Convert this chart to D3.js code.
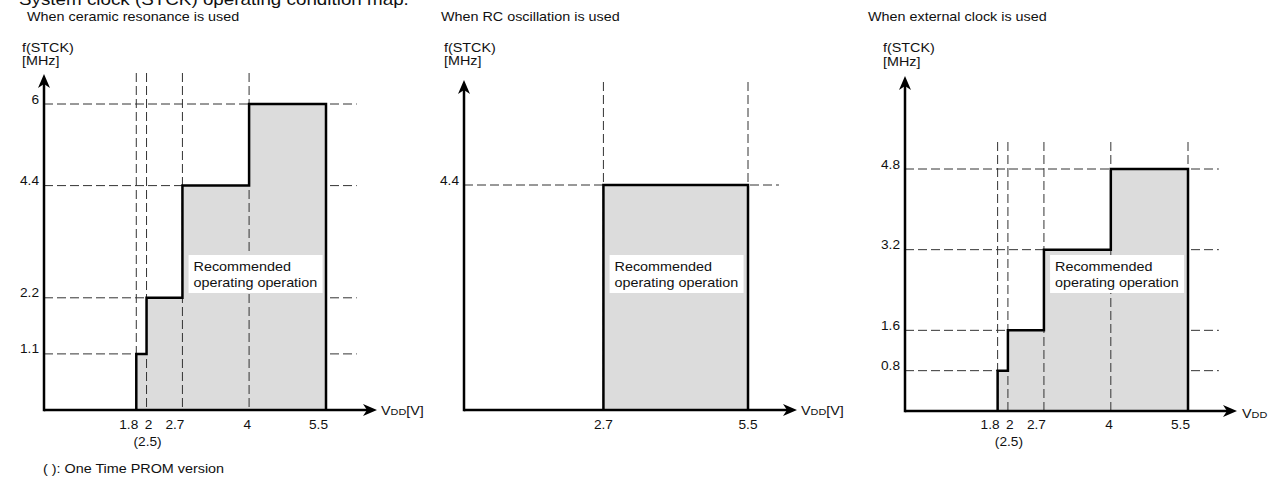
<!DOCTYPE html>
<html>
<head>
<meta charset="utf-8">
<script src="https://cdn.jsdelivr.net/npm/d3@7"></script>
<style>
  html, body { margin: 0; padding: 0; background: #fff; }
  svg { display: block; font-family: "Liberation Sans", Arial, sans-serif; }
</style>
</head>
<body>
<svg id="chart" width="1268" height="477"></svg>
<script>
// ---- data ----
const mainTitle = "System clock (STCK) operating condition map.";
const panelTitles = ["When ceramic resonance is used", "When RC oscillation is used", "When external clock is used"];
const yAxisTitle = ["f(STCK)", "[MHz]"];
const regionLabel = ["Recommended", "operating operation"];
const footnote = "( ): One Time PROM version";
const otpNote = "(2.5)";

// ceramic resonance: supply voltage breakpoints and max frequency on each step
const ceramicVdd = [1.8, 2, 2.7, 4, 5.5];
const ceramicFreq = [1.1, 2.2, 4.4, 6];
const ceramicXTicks = ["1.8", "2", "2.7", "4", "5.5"];
const ceramicYTicks = ["1.1", "2.2", "4.4", "6"];
const ceramicVLines = [1.8, 2, 2.7, 4];

// RC oscillation
const rcVdd = [2.7, 5.5];
const rcFreq = [4.4];
const rcXTicks = ["2.7", "5.5"];
const rcYTicks = ["4.4"];
const rcVLines = [2.7, 5.5];

// external clock
const extVdd = [1.8, 2, 2.7, 4, 5.5];
const extFreq = [0.8, 1.6, 3.2, 4.8];
const extXTicks = ["1.8", "2", "2.7", "4", "5.5"];
const extYTicks = ["0.8", "1.6", "3.2", "4.8"];
const extVLines = [1.8, 2, 2.7, 4, 5.5];

// ---- drawing ----
const SX = 1.14; // horizontal stretch of the original artwork's lettering
const svg = d3.select("#chart");

function label(g, x, y, s, size, anchor, weight) {
  return g.append("text")
    .attr("transform", `translate(${x},${y}) scale(${SX},1)`)
    .attr("text-anchor", anchor || "start")
    .attr("font-size", size)
    .attr("fill", "#111")
    .text(s);
}

label(svg, 19, 5, mainTitle, 16.5, "start");
label(svg, 27, 21, panelTitles[0], 12.6);
label(svg, 441, 21, panelTitles[1], 12.6);
label(svg, 868, 21, panelTitles[2], 12.6);
label(svg, 43, 473, footnote, 12.6);

const panels = [
  { vdd: ceramicVdd, freq: ceramicFreq, xt: ceramicXTicks, yt: ceramicYTicks, vl: ceramicVLines,
    xr: [44, 326], yDom: 6, yr: [410, 104], xTip: 377, yTip: 74, vTop: 73, tickMode: "end",
    yLab: [22, 52, 65], vddLab: [381, 415, "[V]"], otp: true },
  { vdd: rcVdd, freq: rcFreq, xt: rcXTicks, yt: rcYTicks, vl: rcVLines,
    xr: [464, 748], yDom: 4.4, yr: [410, 185], xTip: 797, yTip: 80, vTop: 82, tickMode: "middle",
    yLab: [444, 52, 65], vddLab: [801, 415, "[V]"], otp: false },
  { vdd: extVdd, freq: extFreq, xt: extXTicks, yt: extYTicks, vl: extVLines,
    xr: [905, 1188], yDom: 4.8, yr: [411, 169], xTip: 1237, yTip: 76, vTop: 142, tickMode: "end",
    yLab: [883, 52, 66], vddLab: [1242, 418, ""], otp: true }
];

panels.forEach(p => {
  const g = svg.append("g");
  const x = d3.scaleLinear().domain([0, 5.5]).range(p.xr);
  const y = d3.scaleLinear().domain([0, p.yDom]).range(p.yr);
  const x0 = x(0), y0 = y(0);
  const xEnd = x(6.1);

  // horizontal dashed guides (beneath fill)
  g.selectAll("line.h").data(p.freq).join("line")
    .attr("x1", x0).attr("x2", xEnd)
    .attr("y1", d => y(d)).attr("y2", d => y(d))
    .attr("stroke", "#333").attr("stroke-width", 1).attr("stroke-dasharray", "9,4");

  // operating region
  const pts = [{ v: p.vdd[0], f: 0 }]
    .concat(p.freq.map((f, i) => ({ v: p.vdd[i], f })))
    .concat([{ v: p.vdd[p.vdd.length - 1], f: p.freq[p.freq.length - 1] },
             { v: p.vdd[p.vdd.length - 1], f: 0 }]);
  const area = d3.area().x(d => x(d.v)).y0(y0).y1(d => y(d.f)).curve(d3.curveStepAfter);
  g.append("path").attr("d", area(pts)).attr("fill", "#dcdcdc");

  // vertical dashed guides (over fill)
  g.selectAll("line.v").data(p.vl).join("line")
    .attr("x1", d => x(d)).attr("x2", d => x(d))
    .attr("y1", p.vTop).attr("y2", y0)
    .attr("stroke", "#333").attr("stroke-width", 1).attr("stroke-dasharray", "9,4");

  // outline
  const line = d3.line().x(d => x(d.v)).y(d => y(d.f)).curve(d3.curveStepAfter);
  g.append("path").attr("d", line(pts)).attr("fill", "none")
    .attr("stroke", "#000").attr("stroke-width", 2.5).attr("stroke-linejoin", "miter");

  // region label box
  const bx = x(2.8) + 1, by = 255;
  g.append("rect").attr("x", bx).attr("y", by).attr("width", 134).attr("height", 38).attr("fill", "#fff");
  label(g, bx + 5, by + 16, regionLabel[0], 12.6);
  label(g, bx + 5, by + 32, regionLabel[1], 12.6);

  // axes
  g.append("line").attr("x1", x0).attr("x2", p.xTip - 8).attr("y1", y0).attr("y2", y0)
    .attr("stroke", "#000").attr("stroke-width", 2.5);
  g.append("line").attr("x1", x0).attr("x2", x0).attr("y1", y0 + 1.2).attr("y2", p.yTip + 8)
    .attr("stroke", "#000").attr("stroke-width", 2.5);
  // arrowheads
  g.append("path").attr("fill", "#000")
    .attr("d", `M${p.xTip},${y0} L${p.xTip - 14},${y0 - 6} L${p.xTip - 10},${y0} L${p.xTip - 14},${y0 + 6} Z`);
  g.append("path").attr("fill", "#000")
    .attr("d", `M${x0},${p.yTip} L${x0 - 6},${p.yTip + 14} L${x0},${p.yTip + 10} L${x0 + 6},${p.yTip + 14} Z`);

  // y tick labels
  p.yt.forEach((t, i) => label(g, x0 - 5, y(p.freq[i]) - 0.5, t, 12, "end"));

  // x tick labels
  p.xt.forEach((t, i) => {
    const v = +t;
    if (p.tickMode === "end" && t !== "2") label(g, x(v) + 2, 429, t, 12, "end");
    else label(g, x(v) + (p.tickMode === "end" ? 2 : 0), 429, t, 12, "middle");
  });
  if (p.otp) label(g, x(2) + 1, 446, otpNote, 12, "middle");

  // axis titles
  label(g, p.yLab[0], p.yLab[1], yAxisTitle[0], 12.6);
  label(g, p.yLab[0], p.yLab[2], yAxisTitle[1], 12.6);
  const vt = g.append("text")
    .attr("transform", `translate(${p.vddLab[0]},${p.vddLab[1]}) scale(${SX},1)`)
    .attr("fill", "#111").attr("font-size", 12.6);
  vt.append("tspan").text("V");
  vt.append("tspan").attr("font-size", 9.5).text("DD");
  if (p.vddLab[2]) vt.append("tspan").text(p.vddLab[2]);
});
</script>
</body>
</html>
